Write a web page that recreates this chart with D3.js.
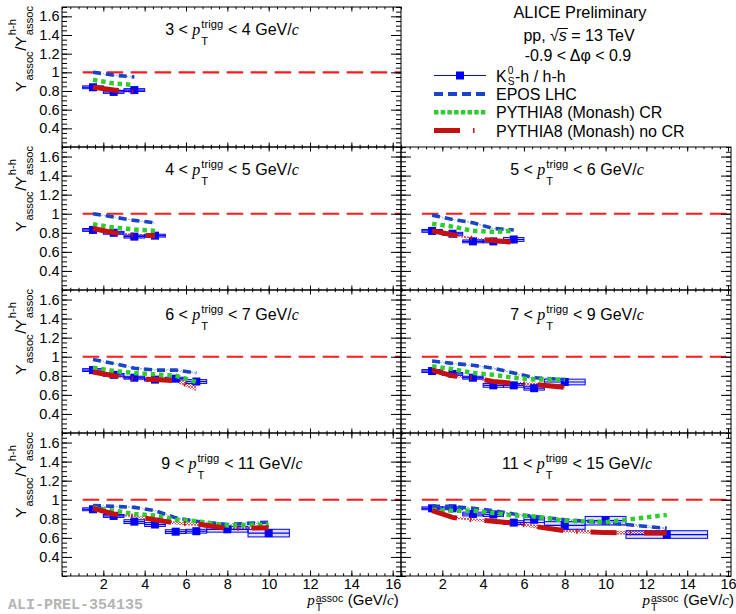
<!DOCTYPE html>
<html><head><meta charset="utf-8">
<script src="https://cdn.jsdelivr.net/npm/d3@7"></script>
<style>body{margin:0;background:#fff}svg{display:block}text{white-space:pre}</style>
</head><body><svg id="c" width="736" height="614"></svg>
<script>
// ---------------- DATA ----------------
const binLo = [1, 2, 3, 4, 5, 6, 7, 9, 11];
const binHi = [2, 3, 4, 5, 6, 7, 9, 11, 15];
const binCenter = [1.5, 2.5, 3.5, 4.5, 5.5, 6.5, 8, 10, 13];
const triggLo = ["3", "4", "5", "6", "7", "9", "11"];
const triggHi = ["4", "5", "6", "7", "9", "11", "15"];

const k0sRatio = [
  [0.84, 0.79, 0.81],
  [0.83, 0.80, 0.76, 0.77],
  [0.82, 0.79, 0.71, 0.71, 0.73],
  [0.86, 0.81, 0.78, 0.76, 0.77, 0.74],
  [0.85, 0.82, 0.78, 0.70, 0.70, 0.67, 0.735],
  [0.90, 0.83, 0.77, 0.74, 0.665, 0.67, 0.69, 0.65],
  [0.91, 0.91, 0.85, 0.845, 0.76, 0.79, 0.73, 0.78, 0.635]
];
const k0sSys = [
  [0.015, 0.015, 0.015],
  [0.015, 0.015, 0.015, 0.015],
  [0.015, 0.015, 0.015, 0.015, 0.02],
  [0.015, 0.015, 0.015, 0.015, 0.015, 0.02],
  [0.015, 0.015, 0.015, 0.02, 0.02, 0.02, 0.03],
  [0.015, 0.015, 0.02, 0.02, 0.02, 0.02, 0.03, 0.04],
  [0.015, 0.015, 0.02, 0.02, 0.02, 0.03, 0.04, 0.045, 0.04]
];
const eposLHC = [
  [1.00, 0.97, 0.95],
  [1.00, 0.965, 0.93, 0.905],
  [0.985, 0.94, 0.905, 0.845, 0.83],
  [0.97, 0.93, 0.88, 0.86, 0.86, 0.83],
  [0.955, 0.93, 0.91, 0.88, 0.83, 0.78, 0.76],
  [0.94, 0.93, 0.92, 0.885, 0.81, 0.775, 0.74, 0.765],
  [0.93, 0.93, 0.91, 0.885, 0.85, 0.825, 0.79, 0.76, 0.70]
];
const eposErr = [
  [0.008, 0.008, 0.008],
  [0.008, 0.008, 0.008, 0.008],
  [0.008, 0.008, 0.008, 0.008, 0.01],
  [0.008, 0.008, 0.008, 0.008, 0.01, 0.01],
  [0.008, 0.008, 0.008, 0.01, 0.01, 0.01, 0.012],
  [0.008, 0.008, 0.008, 0.01, 0.01, 0.01, 0.012, 0.015],
  [0.008, 0.008, 0.008, 0.01, 0.01, 0.01, 0.012, 0.015, 0.015]
];
const pythiaCR = [
  [0.92, 0.88, 0.865],
  [0.89, 0.855, 0.835, 0.82],
  [0.895, 0.865, 0.82, 0.81, 0.82],
  [0.885, 0.85, 0.83, 0.815, 0.80, 0.735],
  [0.90, 0.87, 0.83, 0.81, 0.78, 0.76, 0.76],
  [0.915, 0.885, 0.85, 0.835, 0.79, 0.775, 0.73, 0.74],
  [0.895, 0.885, 0.885, 0.86, 0.835, 0.825, 0.78, 0.765, 0.84]
];
const pythiaNoCR = [
  [0.84, 0.81, 0.79],
  [0.845, 0.80, 0.775, 0.77],
  [0.82, 0.78, 0.74, 0.72, 0.70],
  [0.84, 0.80, 0.77, 0.76, 0.75, 0.67],
  [0.86, 0.80, 0.78, 0.74, 0.72, 0.71, 0.68],
  [0.91, 0.85, 0.825, 0.79, 0.755, 0.745, 0.70, 0.705],
  [0.885, 0.815, 0.79, 0.775, 0.755, 0.72, 0.675, 0.655, 0.65]
];
const pythiaNoCRErr = [
  [0.01, 0.012, 0.015],
  [0.01, 0.012, 0.012, 0.015],
  [0.01, 0.012, 0.012, 0.015, 0.015],
  [0.01, 0.012, 0.012, 0.015, 0.02, 0.03],
  [0.01, 0.012, 0.012, 0.015, 0.015, 0.02, 0.02],
  [0.01, 0.012, 0.012, 0.015, 0.015, 0.02, 0.02, 0.02],
  [0.01, 0.012, 0.012, 0.015, 0.015, 0.02, 0.02, 0.02, 0.02]
];
const yTickValues = [0.4, 0.6, 0.8, 1.0, 1.2, 1.4, 1.6];
const xTickValues = [2, 4, 6, 8, 10, 12, 14, 16];
const refValue = 1.0;
const legendLabels = ["EPOS LHC", "PYTHIA8 (Monash) CR", "PYTHIA8 (Monash) no CR"];

// ---------------- LAYOUT / STYLE ----------------
const FONT = "'Liberation Sans', Arial, Helvetica, sans-serif";
const SERIF = "'Liberation Serif', 'Times New Roman', serif";
const C_DATA = "#0000ff", C_EPOS = "#1a44c8", C_CR = "#2fcc2f", C_NOCR = "#c41010", C_REF = "#ff1a1a";
const cols = [
  {x0: 62, x1: 401, r0: 62, r1: 392.7, tcx: 232},
  {x0: 401, x1: 731, r0: 401.5, r1: 728, tcx: 577}
];
const rows = [
  {y0: 7, y1: 147, tb: 28},
  {y0: 147, y1: 290, tb: 28},
  {y0: 290, y1: 433, tb: 30},
  {y0: 433, y1: 576, tb: 36}
];
const panels = [{r:0,c:0},{r:1,c:0},{r:1,c:1},{r:2,c:0},{r:2,c:1},{r:3,c:0},{r:3,c:1}];

const svg = d3.select("#c");
const defs = svg.append("defs");
const hr = defs.append("pattern").attr("id", "hatchRed").attr("patternUnits", "userSpaceOnUse").attr("width", 3).attr("height", 3);
hr.append("path").attr("d", "M0,0L3,3M3,0L0,3").attr("stroke", "#d83030").attr("stroke-width", 0.8);
const hb = defs.append("pattern").attr("id", "hatchBlue").attr("patternUnits", "userSpaceOnUse").attr("width", 3).attr("height", 3);
hb.append("path").attr("d", "M0,0L3,3M3,0L0,3").attr("stroke", "#7f9be8").attr("stroke-width", 0.7);

// rich text helper (sub/superscripts stacked like ROOT's TLatex)
function rich(parent, parts, fs, o = {}) {
  const g = parent.append("g");
  let x = 0;
  const ss = o.ss || 0.72, subDy = o.subDy || 0.55, supDy = o.supDy || -0.45;
  function add(t, px, dy, size, it, serif) {
    const el = g.append("text").attr("x", px).attr("y", dy).attr("font-size", size)
      .attr("font-family", serif ? SERIF : FONT).attr("font-style", it ? "italic" : "normal")
      .attr("fill", o.fill || "#000").attr("xml:space", "preserve").text(t);
    return el.node().getComputedTextLength();
  }
  for (const p of parts) {
    if (p.sub !== undefined || p.sup !== undefined) {
      let w = 0;
      if (p.sub) w = Math.max(w, add(p.sub, x + 1, fs * subDy, fs * ss));
      if (p.sup) w = Math.max(w, add(p.sup, x + 1, fs * supDy, fs * ss));
      x += w + 1.5;
    } else {
      const w = add(p.t, x, 0, fs, p.it, p.serif);
      if (p.over) g.append("line").attr("x1", x - 1).attr("x2", x + w + 1).attr("y1", -fs * 0.78).attr("y2", -fs * 0.78).attr("stroke", "#000").attr("stroke-width", 1);
      x += w;
    }
  }
  return {g, width: x};
}

panels.forEach((p, i) => {
  const col = cols[p.c], row = rows[p.r];
  const x = d3.scaleLinear().domain([0, 16]).range([col.r0, col.r1]);
  const y = d3.scaleLinear().domain([0.2, 1.7]).range([row.y1, row.y0]);
  const g = svg.append("g");
  const clipId = "clip" + i;
  defs.append("clipPath").attr("id", clipId).append("rect")
    .attr("x", col.x0).attr("y", row.y0).attr("width", col.x1 - col.x0).attr("height", row.y1 - row.y0);
  const plot = g.append("g").attr("clip-path", `url(#${clipId})`);
  const idx = d3.range(k0sRatio[i].length);

  // reference line at 1
  plot.append("line").attr("x1", x(1)).attr("x2", col.x1).attr("y1", y(refValue)).attr("y2", y(refValue))
    .attr("stroke", C_REF).attr("stroke-width", 2.2).attr("stroke-dasharray", "16.5,7.5");

  // model bands
  const band = (vals, errs) => d3.area().x(j => x(binCenter[j])).y0(j => y(vals[j] - errs[j])).y1(j => y(vals[j] + errs[j]))(idx);
  plot.append("path").attr("d", band(pythiaNoCR[i], pythiaNoCRErr[i])).attr("fill", "url(#hatchRed)");
  plot.append("path").attr("d", band(eposLHC[i], eposErr[i])).attr("fill", "url(#hatchBlue)");

  // data systematic boxes + bin-width bars + markers
  idx.forEach(j => {
    const v = k0sRatio[i][j], s = k0sSys[i][j];
    plot.append("rect").attr("x", x(binLo[j])).attr("width", x(binHi[j]) - x(binLo[j]))
      .attr("y", y(v + s)).attr("height", y(v - s) - y(v + s))
      .attr("fill", C_DATA).attr("fill-opacity", 0.13).attr("stroke", C_DATA).attr("stroke-width", 1);
    plot.append("line").attr("x1", x(binLo[j])).attr("x2", x(binHi[j])).attr("y1", y(v)).attr("y2", y(v))
      .attr("stroke", C_DATA).attr("stroke-width", 1.2);
    plot.append("rect").attr("x", x(binCenter[j]) - 4).attr("y", y(v) - 4).attr("width", 8).attr("height", 8).attr("fill", C_DATA);
  });

  // model lines
  const line = vals => d3.line().x(j => x(binCenter[j])).y(j => y(vals[j]))(idx);
  plot.append("path").attr("d", line(eposLHC[i])).attr("fill", "none").attr("stroke", C_EPOS)
    .attr("stroke-width", 3.6).attr("stroke-dasharray", "8,5");
  plot.append("path").attr("d", line(pythiaCR[i])).attr("fill", "none").attr("stroke", C_CR)
    .attr("stroke-width", 4.5).attr("stroke-dasharray", "4.5,3.8");
  plot.append("path").attr("d", line(pythiaNoCR[i])).attr("fill", "none").attr("stroke", C_NOCR)
    .attr("stroke-width", 5).attr("stroke-dasharray", "26,13,1.5,13");

  // frame
  g.append("rect").attr("x", col.x0).attr("y", row.y0).attr("width", col.x1 - col.x0).attr("height", row.y1 - row.y0)
    .attr("fill", "none").attr("stroke", "#000").attr("stroke-width", 1);

  // axes (ticks inside, ROOT style)
  const yMinor = d3.range(0.2, 1.7001, 0.05);
  const xMinor = d3.range(0, 16.41, 0.4).filter(v => x(v) <= col.x1 + 0.5);
  const xLen = p.r === 3 ? 5.5 : 4.5;
  const style = sel => { sel.select(".domain").remove(); sel.selectAll("line").attr("stroke", "#000"); };
  g.append("g").attr("transform", `translate(${col.x0},0)`)
    .call(d3.axisLeft(y).tickValues(yMinor).tickSize(-5).tickFormat("")).call(style);
  const yl = g.append("g").attr("transform", `translate(${col.x0},0)`)
    .call(d3.axisLeft(y).tickValues(yTickValues).tickSizeInner(-10).tickSizeOuter(0).tickPadding(2.5)
      .tickFormat(p.c === 0 ? d3.format("") : () => "")).call(style);
  yl.selectAll("text").attr("font-family", FONT).attr("font-size", 14.5).attr("fill", "#000");
  g.append("g").attr("transform", `translate(${col.x1},0)`)
    .call(d3.axisRight(y).tickValues(yMinor).tickSize(-5).tickFormat("")).call(style);
  g.append("g").attr("transform", `translate(${col.x1},0)`)
    .call(d3.axisRight(y).tickValues(yTickValues).tickSize(-10).tickFormat("")).call(style);
  g.append("g").attr("transform", `translate(0,${row.y0})`)
    .call(d3.axisTop(x).tickValues(xMinor).tickSize(-xLen / 2).tickFormat("")).call(style);
  g.append("g").attr("transform", `translate(0,${row.y0})`)
    .call(d3.axisTop(x).tickValues(xTickValues).tickSize(-xLen).tickFormat("")).call(style);
  g.append("g").attr("transform", `translate(0,${row.y1})`)
    .call(d3.axisBottom(x).tickValues(xMinor).tickSize(-xLen / 2).tickFormat("")).call(style);
  const xl = g.append("g").attr("transform", `translate(0,${row.y1})`)
    .call(d3.axisBottom(x).tickValues(xTickValues).tickSizeInner(-xLen).tickSizeOuter(0).tickPadding(3)
      .tickFormat(p.r === 3 ? d3.format("") : () => "")).call(style);
  xl.selectAll("text").attr("font-family", FONT).attr("font-size", 14.5).attr("fill", "#000");

  // panel title
  const t = rich(svg, [{t: triggLo[i] + " < "}, {t: "p", it: true, serif: true}, {sub: "T", sup: "trigg"},
    {t: " < " + triggHi[i] + " GeV/"}, {t: "c", it: true, serif: true}], 16, {ss: 0.7, subDy: 0.6, supDy: -0.42});
  t.g.attr("transform", `translate(${col.tcx - t.width / 2},${row.y0 + row.tb})`);

  // axis titles
  if (p.c === 0) {
    const yt = rich(svg, [{t: "Y"}, {sub: "assoc"}, {t: "/Y"}, {sub: "assoc", sup: "h-h"}], 15.5, {ss: 0.72, subDy: 0.45, supDy: -0.62});
    yt.g.attr("transform", `translate(26,${row.y0 - 1.5}) rotate(-90) translate(${-yt.width},0)`);
  }
  if (p.r === 3) {
    const xt = rich(svg, [{t: "p", it: true, serif: true}, {sub: "T", sup: "assoc"}, {t: " (GeV/"}, {t: "c", it: true, serif: true}, {t: ")"}],
      15, {ss: 0.7, subDy: 0.4, supDy: -0.22});
    xt.g.attr("transform", `translate(${x(16) + 6 - xt.width},605)`);
  }
});

// ---------------- LEGEND (top-right pad) ----------------
const lg = svg.append("g");
function centered(parts, cx, by, fs) {
  const r = rich(lg, parts, fs);
  r.g.attr("transform", `translate(${cx - r.width / 2},${by})`);
}
centered([{t: "ALICE Preliminary"}], 580, 17.5, 16.3);
centered([{t: "pp, √"}, {t: "s", it: true, over: true}, {t: " = 13 TeV"}], 579, 41, 16);
centered([{t: "-0.9 < Δφ < 0.9"}], 578, 61, 16);

const legX0 = 434, legX1 = 486, legTx = 496, legBase = [81.5, 100, 118.3, 136.6];
// data entry
lg.append("line").attr("x1", legX0).attr("x2", legX1).attr("y1", legBase[0] - 6).attr("y2", legBase[0] - 6).attr("stroke", C_DATA).attr("stroke-width", 1.2);
lg.append("rect").attr("x", (legX0 + legX1) / 2 - 4).attr("y", legBase[0] - 10).attr("width", 8).attr("height", 8).attr("fill", C_DATA);
const e0 = rich(lg, [{t: "K"}, {sub: "S", sup: "0"}, {t: "-h / h-h"}], 16, {ss: 0.64, subDy: 0.22, supDy: -0.48});
e0.g.attr("transform", `translate(${legTx},${legBase[0]})`);
// model entries
const legStyles = [
  {c: C_EPOS, w: 4, d: "9,5"},
  {c: C_CR, w: 4.5, d: "4.5,2.2"},
  {c: C_NOCR, w: 5, d: "26,13,1.5,13"}
];
legStyles.forEach((s, k) => {
  const by = legBase[k + 1];
  lg.append("line").attr("x1", legX0).attr("x2", legX1).attr("y1", by - 6).attr("y2", by - 6)
    .attr("stroke", s.c).attr("stroke-width", s.w).attr("stroke-dasharray", s.d);
  lg.append("text").attr("x", legTx).attr("y", by).attr("font-family", FONT).attr("font-size", 16).attr("fill", "#000").text(legendLabels[k]);
});

// watermark
svg.append("text").attr("x", 8).attr("y", 609).attr("font-family", "'Liberation Mono', 'Courier New', monospace")
  .attr("font-weight", "bold").attr("font-size", 15).attr("fill", "#b4b4b4").text("ALI-PREL-354135");
</script></body></html>
